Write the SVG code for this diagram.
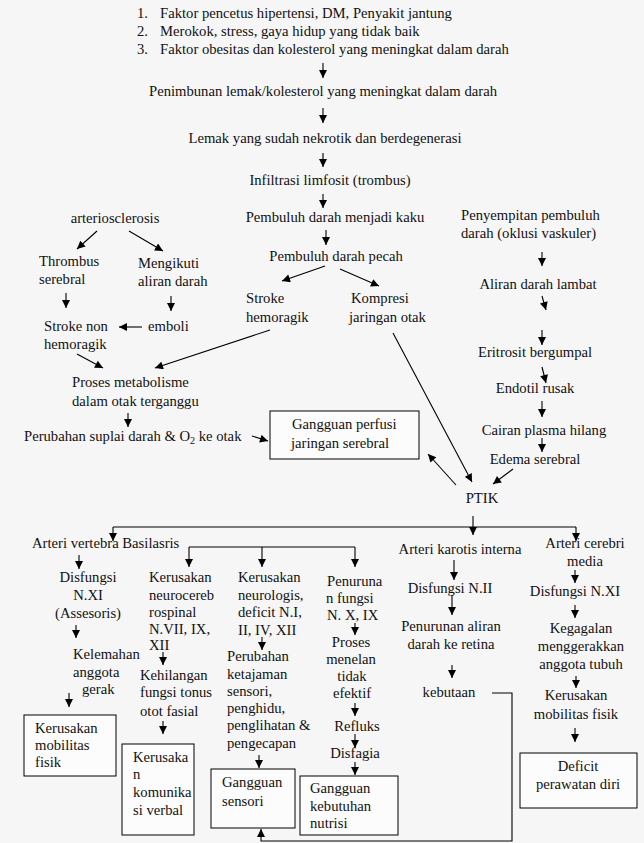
<svg xmlns="http://www.w3.org/2000/svg" width="644" height="843" viewBox="0 0 644 843">
<defs>
<marker id="ah" viewBox="0 0 10 10" refX="10" refY="5" markerWidth="9" markerHeight="8" markerUnits="userSpaceOnUse" orient="auto">
<path d="M0,0 L10,5 L0,10 z" fill="#000"/>
</marker>
</defs>
<style>
text{font-family:'Liberation Serif',serif;font-size:14.67px;fill:#111}
.m{text-anchor:middle}
.c line,.c polyline{stroke:#000;stroke-width:1.1;fill:none}
.a{marker-end:url(#ah)}
.b{fill:#fcfcfc;stroke:#000;stroke-width:1}
</style>
<rect x="0" y="0" width="644" height="843" fill="#f6f6f6"/>
<g class="c" id="connectors">
<line class="a" x1="323" y1="63" x2="323" y2="78"/>
<line class="a" x1="323" y1="108" x2="323" y2="123"/>
<line class="a" x1="323" y1="153" x2="323" y2="167"/>
<line class="a" x1="323" y1="194" x2="323" y2="208"/>
<line class="a" x1="326" y1="230" x2="326" y2="245"/>
<line class="a" x1="325" y1="266" x2="282" y2="281"/>
<line class="a" x1="340" y1="269" x2="379" y2="286"/>
<line class="a" x1="393" y1="333" x2="472" y2="482"/>
<line class="a" x1="270" y1="330" x2="155" y2="368"/>
<line class="a" x1="97" y1="231" x2="77" y2="249"/>
<line class="a" x1="129" y1="231" x2="163" y2="251"/>
<line class="a" x1="66" y1="293" x2="66" y2="308"/>
<line class="a" x1="171" y1="296" x2="171" y2="311"/>
<line class="a" x1="142" y1="327" x2="119" y2="327"/>
<line class="a" x1="77" y1="354" x2="103" y2="368"/>
<line class="a" x1="128" y1="413" x2="128" y2="427"/>
<line class="a" x1="252" y1="436" x2="268" y2="441"/>
<line class="a" x1="456" y1="485" x2="428" y2="454"/>
<line class="a" x1="542" y1="252" x2="542" y2="266"/>
<line class="a" x1="542" y1="296" x2="546" y2="310"/>
<line class="a" x1="542" y1="330" x2="542" y2="345"/>
<line class="a" x1="542" y1="367" x2="546" y2="383"/>
<line class="a" x1="542" y1="401" x2="542" y2="417"/>
<line class="a" x1="542" y1="438" x2="542" y2="452"/>
<line class="a" x1="513" y1="469" x2="493" y2="484"/>
<line class="a" x1="473" y1="516" x2="473" y2="535"/>
<line x1="113" y1="527" x2="576" y2="527"/>
<line class="a" x1="113" y1="527" x2="113" y2="541"/>
<line class="a" x1="576" y1="527" x2="576" y2="541"/>
<line x1="189" y1="547" x2="355" y2="547"/>
<line class="a" x1="189" y1="547" x2="189" y2="567"/>
<line class="a" x1="262" y1="547" x2="262" y2="567"/>
<line class="a" x1="355" y1="547" x2="355" y2="567"/>
<line class="a" x1="79" y1="555" x2="79" y2="569"/>
<line class="a" x1="76" y1="625" x2="76" y2="638"/>
<line class="a" x1="69" y1="693" x2="69" y2="707"/>
<line class="a" x1="163" y1="652" x2="163" y2="665"/>
<line class="a" x1="163" y1="721" x2="163" y2="734"/>
<line class="a" x1="262" y1="637" x2="262" y2="650"/>
<line class="a" x1="259" y1="755" x2="259" y2="768"/>
<line class="a" x1="355" y1="623" x2="355" y2="635"/>
<line class="a" x1="355" y1="703" x2="355" y2="716"/>
<line class="a" x1="355" y1="734" x2="355" y2="748"/>
<line class="a" x1="355" y1="762" x2="355" y2="775"/>
<line class="a" x1="454" y1="560" x2="454" y2="580"/>
<line class="a" x1="452" y1="595" x2="452" y2="615"/>
<line class="a" x1="452" y1="665" x2="452" y2="678"/>
<line class="a" x1="575" y1="570" x2="575" y2="583"/>
<line class="a" x1="575" y1="605" x2="575" y2="618"/>
<line class="a" x1="576" y1="676" x2="576" y2="688"/>
<line class="a" x1="575" y1="728" x2="575" y2="742"/>
<polyline class="a" points="492,693 512,693 512,841 261,841 261,829"/>
</g>
<g id="nodes" font-family="Liberation Serif">
<g id="n-list">
<text x="137" y="18">1.</text><text x="160" y="18">Faktor pencetus hipertensi, DM, Penyakit jantung</text>
<text x="137" y="36">2.</text><text x="160" y="36">Merokok, stress, gaya hidup yang tidak baik</text>
<text x="137" y="54">3.</text><text x="160" y="54">Faktor obesitas dan kolesterol yang meningkat dalam darah</text>
</g>
<g id="n-penimbunan"><text class="m" x="323" y="96">Penimbunan lemak/kolesterol yang meningkat dalam darah</text></g>
<g id="n-lemak"><text class="m" x="325" y="143">Lemak yang sudah nekrotik dan berdegenerasi</text></g>
<g id="n-infiltrasi"><text class="m" x="330" y="185">Infiltrasi limfosit (trombus)</text></g>
<g id="n-kaku"><text class="m" x="335" y="222">Pembuluh darah menjadi kaku</text></g>
<g id="n-pecah"><text class="m" x="336" y="261">Pembuluh darah pecah</text></g>
<g id="n-stroke-h"><text x="246" y="303">Stroke</text><text x="246" y="322">hemoragik</text></g>
<g id="n-kompresi"><text x="351" y="303">Kompresi</text><text x="349" y="322">jaringan otak</text></g>
<g id="n-arterio"><text class="m" x="115" y="223">arteriosclerosis</text></g>
<g id="n-thrombus"><text x="39" y="266">Thrombus</text><text x="39" y="284">serebral</text></g>
<g id="n-mengikuti"><text x="138" y="268">Mengikuti</text><text x="138" y="286">aliran darah</text></g>
<g id="n-emboli"><text x="148" y="331">emboli</text></g>
<g id="n-stroke-nh"><text x="44" y="331">Stroke non</text><text x="44" y="349">hemoragik</text></g>
<g id="n-proses"><text x="72" y="387">Proses metabolisme</text><text x="72" y="406">dalam otak terganggu</text></g>
<g id="n-suplai"><text x="24" y="441">Perubahan suplai darah &amp; O<tspan font-size="10" dy="3">2</tspan><tspan dy="-3"> ke otak</tspan></text></g>
<g id="n-perfusi"><rect class="b" x="270" y="411" width="149" height="48"/><text x="292" y="429">Gangguan perfusi</text><text x="291" y="448">jaringan serebral</text></g>
<g id="n-penyempitan"><text x="461" y="220">Penyempitan pembuluh</text><text x="461" y="238">darah (oklusi vaskuler)</text></g>
<g id="n-aliran"><text class="m" x="538" y="289">Aliran darah lambat</text></g>
<g id="n-eritrosit"><text class="m" x="535" y="357">Eritrosit bergumpal</text></g>
<g id="n-endotil"><text class="m" x="535" y="393">Endotil rusak</text></g>
<g id="n-cairan"><text class="m" x="544" y="435">Cairan plasma hilang</text></g>
<g id="n-edema"><text class="m" x="535" y="464">Edema serebral</text></g>
<g id="n-ptik"><text class="m" x="482" y="503">PTIK</text></g>
<g id="n-vertebra"><text x="32" y="548">Arteri vertebra Basilasris</text></g>
<g id="n-karotis"><text class="m" x="460" y="554">Arteri karotis interna</text></g>
<g id="n-cerebri"><text class="m" x="585" y="548">Arteri cerebri</text><text class="m" x="585" y="566">media</text></g>
<g id="n-disf-xi"><text class="m" x="88" y="582">Disfungsi</text><text class="m" x="88" y="600">N.XI</text><text class="m" x="88" y="618">(Assesoris)</text></g>
<g id="n-kelemahan"><text x="73" y="659">Kelemahan</text><text x="73" y="677">anggota</text><text x="82" y="694">gerak</text></g>
<g id="n-mobilitas1"><rect class="b" x="24" y="715" width="92" height="61"/><text x="35" y="733">Kerusakan</text><text x="35" y="750">mobilitas</text><text x="35" y="767">fisik</text></g>
<g id="n-neurocereb"><text x="149" y="582">Kerusakan</text><text x="149" y="600">neurocereb</text><text x="149" y="617">rospinal</text><text x="149" y="634">N.VII, IX,</text><text x="149" y="650">XII</text></g>
<g id="n-kehilangan"><text x="140" y="680">Kehilangan</text><text x="140" y="697">fungsi tonus</text><text x="140" y="716">otot fasial</text></g>
<g id="n-komunikasi"><rect class="b" x="122" y="744" width="72" height="91"/><text x="133" y="762">Kerusaka</text><text x="133" y="779">n</text><text x="133" y="797">komunika</text><text x="133" y="815">si verbal</text></g>
<g id="n-neurologis"><text x="238" y="582">Kerusakan</text><text x="238" y="600">neurologis,</text><text x="238" y="617">deficit N.I,</text><text x="238" y="635">II, IV, XII</text></g>
<g id="n-perubahan"><text x="227" y="661">Perubahan</text><text x="227" y="679">ketajaman</text><text x="227" y="696">sensori,</text><text x="227" y="713">penghidu,</text><text x="227" y="730">penglihatan &amp;</text><text x="227" y="748">pengecapan</text></g>
<g id="n-sensori"><rect class="b" x="211" y="769" width="84" height="59"/><text x="222" y="787">Gangguan</text><text x="222" y="806">sensori</text></g>
<g id="n-penurunan-f"><text x="327" y="586">Penuruna</text><text x="326" y="603">n fungsi</text><text x="327" y="620">N. X, IX</text></g>
<g id="n-menelan"><text class="m" x="351" y="647">Proses</text><text class="m" x="351" y="664">menelan</text><text class="m" x="352" y="681">tidak</text><text class="m" x="352" y="698">efektif</text></g>
<g id="n-refluks"><text class="m" x="357" y="731">Refluks</text></g>
<g id="n-disfagia"><text class="m" x="355" y="758">Disfagia</text></g>
<g id="n-nutrisi"><rect class="b" x="300" y="776" width="98" height="59"/><text x="310" y="793">Gangguan</text><text x="310" y="811">kebutuhan</text><text x="310" y="828">nutrisi</text></g>
<g id="n-disf-ii"><text class="m" x="450" y="593">Disfungsi N.II</text></g>
<g id="n-retina"><text class="m" x="451" y="631">Penurunan aliran</text><text class="m" x="451" y="649">darah ke retina</text></g>
<g id="n-kebutaan"><text class="m" x="449" y="697">kebutaan</text></g>
<g id="n-disf-xi2"><text class="m" x="575" y="596">Disfungsi N.XI</text></g>
<g id="n-kegagalan"><text class="m" x="581" y="633">Kegagalan</text><text class="m" x="581" y="651">menggerakkan</text><text class="m" x="581" y="669">anggota tubuh</text></g>
<g id="n-mobilitas2"><text class="m" x="576" y="700">Kerusakan</text><text class="m" x="576" y="719">mobilitas fisik</text></g>
<g id="n-deficit"><rect class="b" x="520" y="753" width="117" height="55"/><text class="m" x="578" y="771">Deficit</text><text class="m" x="578" y="789">perawatan diri</text></g>
</g>
</svg>
